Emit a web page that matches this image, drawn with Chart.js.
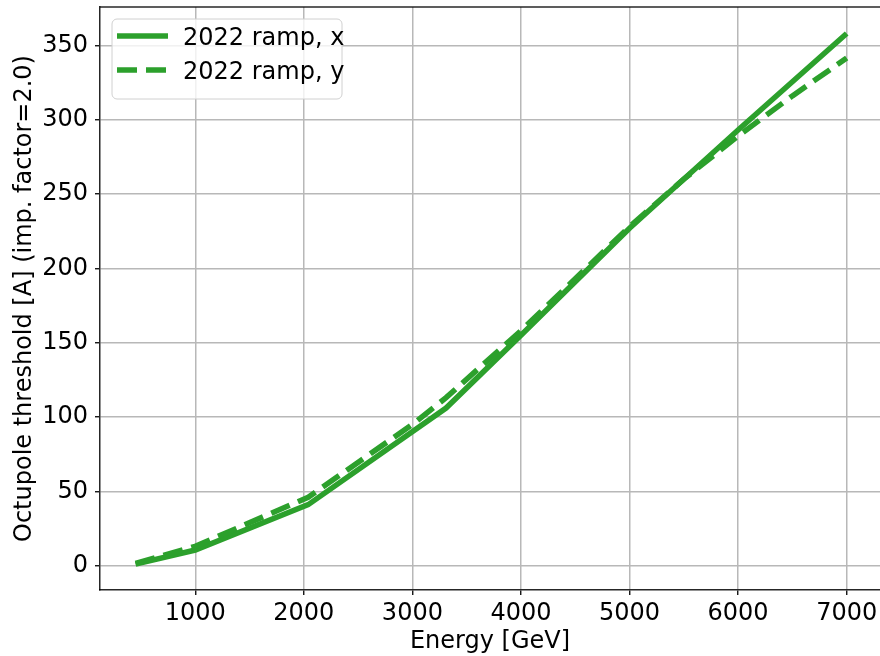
<!DOCTYPE html>
<html>
<head>
<meta charset="utf-8">
<script src="https://cdn.jsdelivr.net/npm/chart.js@4.4.1/dist/chart.umd.min.js"></script>
<style>
  html, body { margin: 0; padding: 0; background: #ffffff; }
  #wrap { width: 880px; height: 656px; position: relative; }
</style>
</head>
<body>
<div id="wrap"><canvas id="chart" width="880" height="656"></canvas></div>
<script>
// Octupole threshold along the 2022 energy ramp, horizontal and vertical planes
const energyX = [450, 1000, 2040, 3310, 4000, 5000, 6000, 7000];
const thresholdX = [1, 10.5, 41, 106, 155, 227, 293, 358];

const energyY = [450, 1000, 2040, 3000, 3310, 4000, 5000, 5500, 6000, 6500, 7000];
const thresholdY = [1.5, 13, 46, 95, 113, 158, 228, 260, 289, 316, 341.5];

const xTicks = [1000, 2000, 3000, 4000, 5000, 6000, 7000];
const yTicks = [0, 50, 100, 150, 200, 250, 300, 350];

const seriesLabels = ['2022 ramp, x', '2022 ramp, y'];
const GREEN = '#2ca02c';
const FONT = 'DejaVu Sans';

const toPoints = (xs, ys) => xs.map((x, i) => ({ x: x, y: ys[i] }));

// Top edge of the axes frame (the right edge runs past the canvas)
const framePlugin = {
  id: 'frame',
  afterDatasetsDraw(chart) {
    const { ctx, chartArea: a } = chart;
    ctx.save();
    ctx.strokeStyle = 'rgba(0,0,0,0.85)';
    ctx.lineWidth = 1.5;
    ctx.beginPath();
    ctx.moveTo(a.left, a.top);
    ctx.lineTo(a.right, a.top);
    ctx.stroke();
    ctx.restore();
  }
};

// Legend box in the upper-left corner of the plot area
const insetLegend = {
  id: 'insetLegend',
  afterDraw(chart) {
    const { ctx, chartArea: a } = chart;
    const x0 = a.left + 12, y0 = a.top + 12, w = 230, h = 80, r = 5;
    ctx.save();
    ctx.beginPath();
    ctx.roundRect(x0, y0, w, h, r);
    ctx.fillStyle = 'rgba(255,255,255,0.8)';
    ctx.fill();
    ctx.strokeStyle = '#d0d0d0';
    ctx.lineWidth = 1;
    ctx.stroke();
    chart.data.datasets.forEach((ds, i) => {
      const y = y0 + 17 + i * 34;
      ctx.beginPath();
      ctx.setLineDash(ds.borderDash || []);
      ctx.lineCap = 'butt';
      ctx.strokeStyle = ds.borderColor;
      ctx.lineWidth = ds.borderWidth;
      ctx.moveTo(x0 + 5, y);
      ctx.lineTo(x0 + 56, y);
      ctx.stroke();
      ctx.setLineDash([]);
      ctx.fillStyle = '#000000';
      ctx.font = '24px "' + FONT + '"';
      ctx.textBaseline = 'middle';
      ctx.textAlign = 'left';
      ctx.fillText(ds.label, x0 + 71, y + 3);
    });
    ctx.restore();
  }
};

const plain = v => String(v);

new Chart(document.getElementById('chart'), {
  type: 'line',
  data: {
    datasets: [
      {
        label: seriesLabels[0],
        data: toPoints(energyX, thresholdX),
        borderColor: GREEN,
        borderWidth: 5.5,
        pointRadius: 0,
        tension: 0,
        order: 1
      },
      {
        label: seriesLabels[1],
        data: toPoints(energyY, thresholdY),
        borderColor: GREEN,
        borderWidth: 5.5,
        borderDash: [20, 9],
        pointRadius: 0,
        tension: 0,
        order: 0
      }
    ]
  },
  options: {
    responsive: false,
    animation: false,
    layout: { padding: { top: 7, right: 0, left: 0, bottom: 0 } },
    plugins: {
      legend: { display: false },
      tooltip: { enabled: false }
    },
    scales: {
      x: {
        type: 'linear',
        min: 122.5,
        max: 7307,
        afterBuildTicks: s => { s.ticks = xTicks.map(v => ({ value: v })); },
        afterFit: s => { s.height = 66; s.paddingLeft = 0; s.paddingRight = 0; },
        grid: {
          color: '#b8b8b8',
          lineWidth: 1.5,
          drawTicks: true,
          tickLength: 5,
          tickColor: '#000000',
          tickWidth: 1.3
        },
        border: { display: true, color: 'rgba(0,0,0,0.85)', width: 1.5 },
        ticks: {
          color: '#000000',
          font: { family: FONT, size: 24 },
          padding: 4,
          maxRotation: 0,
          autoSkip: false,
          callback: plain
        },
        title: {
          display: true,
          text: 'Energy [GeV]',
          color: '#000000',
          font: { family: FONT, size: 24 },
          padding: { top: 0, bottom: 0 }
        }
      },
      y: {
        type: 'linear',
        min: -16.4,
        max: 375.8,
        afterBuildTicks: s => { s.ticks = yTicks.map(v => ({ value: v })); },
        afterFit: s => { s.width = 100; s.paddingTop = 0; s.paddingBottom = 0; },
        grid: {
          color: '#b8b8b8',
          lineWidth: 1.5,
          drawTicks: true,
          tickLength: 5,
          tickColor: '#000000',
          tickWidth: 1.3
        },
        border: { display: true, color: 'rgba(0,0,0,0.85)', width: 1.5 },
        ticks: {
          color: '#000000',
          font: { family: FONT, size: 24 },
          padding: 7,
          autoSkip: false,
          callback: plain
        },
        title: {
          display: true,
          text: 'Octupole threshold [A] (imp. factor=2.0)',
          color: '#000000',
          font: { family: FONT, size: 24 },
          padding: { top: 10, bottom: 0 }
        }
      }
    }
  },
  plugins: [framePlugin, insetLegend]
});
</script>
</body>
</html>
